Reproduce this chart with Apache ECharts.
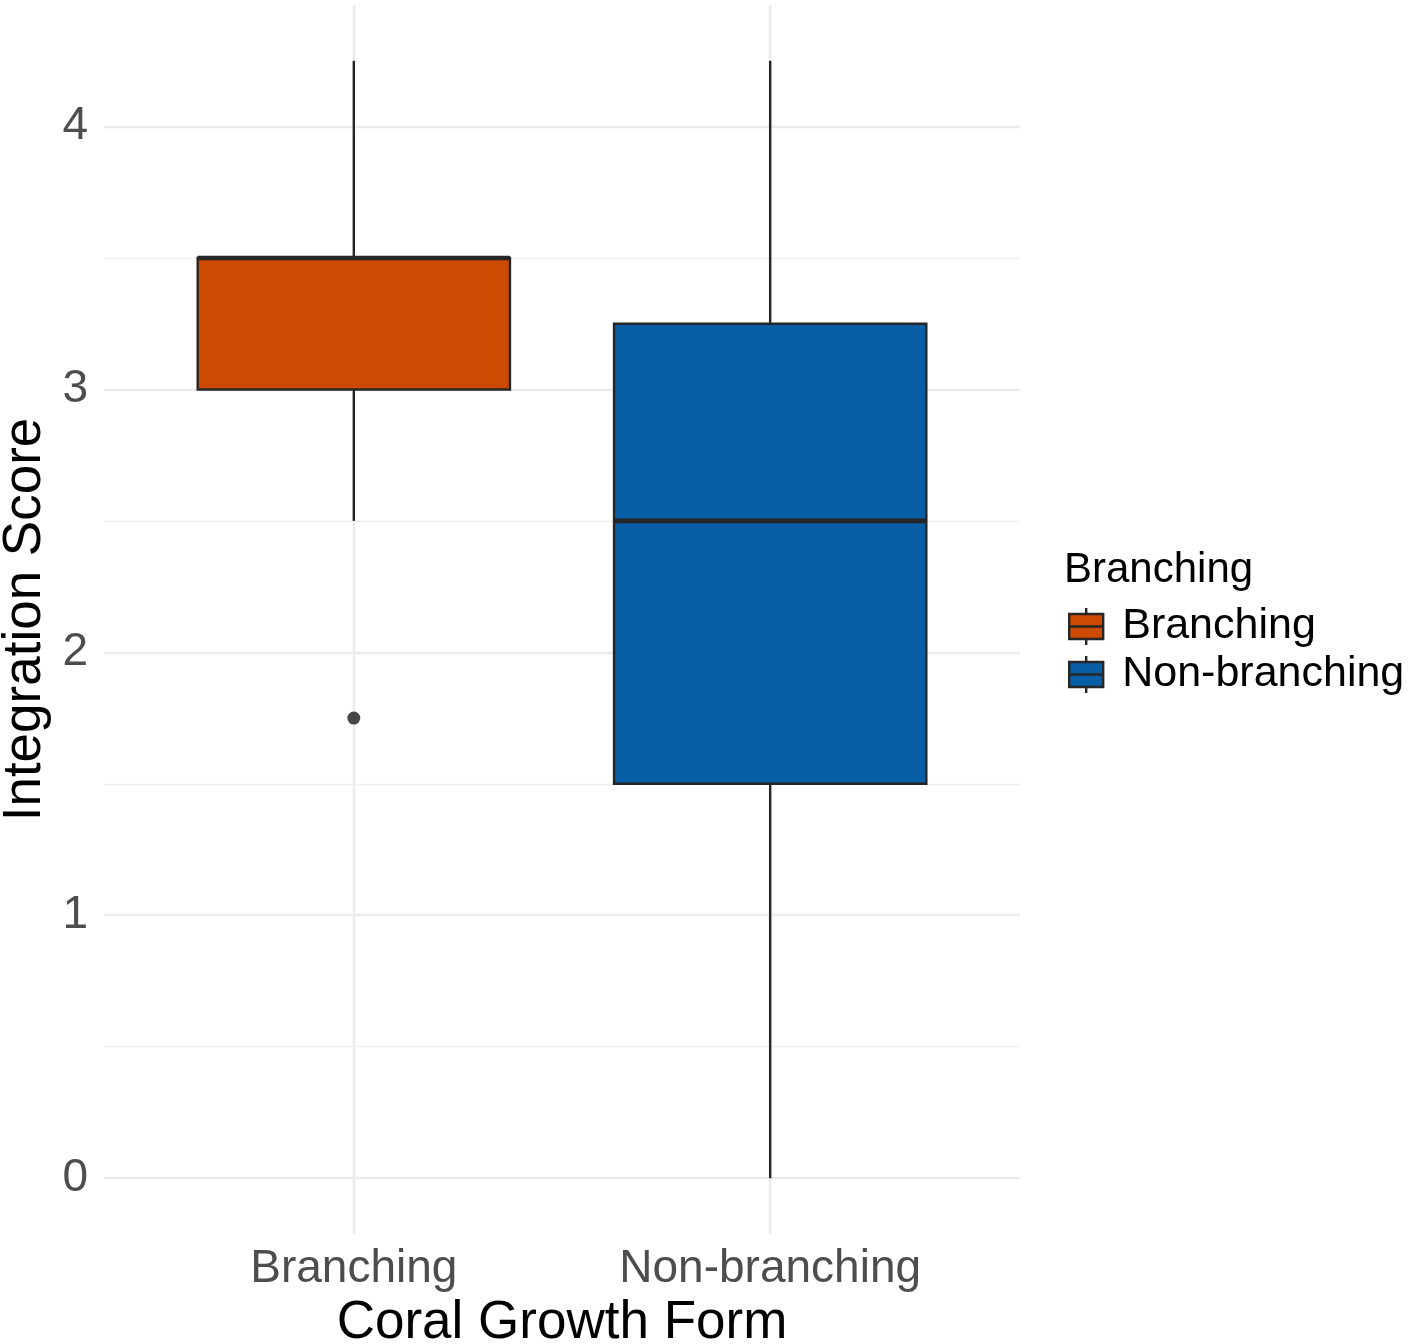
<!DOCTYPE html>
<html>
<head>
<meta charset="utf-8">
<script src="https://cdn.jsdelivr.net/npm/echarts@6/dist/echarts.min.js"></script>
<style>
  html, body { margin: 0; padding: 0; background: #ffffff; }
  #chart { width: 1408px; height: 1344px; }
</style>
</head>
<body>
<div id="chart"></div>
<script>
// ---- Data ----
const categories = ['Branching', 'Non-branching'];
const lowerWhisker = [2.5, 0];
const q1Values = [3, 1.5];
const medianValues = [3.5, 2.5];
const q3Values = [3.5, 3.25];
const upperWhisker = [4.25, 4.25];
const outlierPoints = [[1, 1.75]]; // [category position, value]
const yTickValues = [0, 1, 2, 3, 4];
const yMinorValues = [0.5, 1.5, 2.5, 3.5];
const fillColors = ['#CC4A02', '#085EA5'];

const FONT = "'Liberation Sans', Arial, sans-serif";
const OUTLINE = '#262626';

function renderBox(params, api) {
  const x = api.value(0);
  const low = api.coord([x, api.value(1)]);
  const q1 = api.coord([x, api.value(2)]);
  const med = api.coord([x, api.value(3)]);
  const q3 = api.coord([x, api.value(4)]);
  const high = api.coord([x, api.value(5)]);
  const halfW = api.size([0.75, 0])[0] / 2;
  const cx = q1[0];
  const color = api.visual('color');
  return {
    type: 'group',
    children: [
      { type: 'line', shape: { x1: cx, y1: high[1], x2: cx, y2: q3[1] }, style: { stroke: OUTLINE, lineWidth: 2.4 } },
      { type: 'line', shape: { x1: cx, y1: q1[1], x2: cx, y2: low[1] }, style: { stroke: OUTLINE, lineWidth: 2.4 } },
      { type: 'rect', shape: { x: cx - halfW, y: q3[1], width: halfW * 2, height: q1[1] - q3[1] },
        style: { fill: color, stroke: OUTLINE, lineWidth: 2.4 } },
      { type: 'line', shape: { x1: cx - halfW, y1: med[1], x2: cx + halfW, y2: med[1] }, style: { stroke: OUTLINE, lineWidth: 4.6 } }
    ]
  };
}

const legendIcon = 'path://M0,6 H34 V31 H0 Z M0,18.5 H34 M17,0 V6 M17,31 V37';

const boxSeries = categories.map((name, i) => ({
  name: name,
  type: 'custom',
  renderItem: renderBox,
  itemStyle: { color: fillColors[i] },
  encode: { x: 0, y: [1, 2, 3, 4, 5] },
  data: [[i + 1, lowerWhisker[i], q1Values[i], medianValues[i], q3Values[i], upperWhisker[i]]],
  z: 3,
  markLine: i === 0 ? {
    silent: true,
    symbol: 'none',
    label: { show: false },
    lineStyle: { color: '#EFEFEF', width: 1.4, type: 'solid' },
    data: yMinorValues.map(v => ({ yAxis: v })),
    animation: false,
    z: 1
  } : undefined
}));

const chart = echarts.init(document.getElementById('chart'), null, { renderer: 'canvas' });
chart.setOption({
  animation: false,
  backgroundColor: '#ffffff',
  textStyle: { fontFamily: FONT },
  title: {
    text: 'Branching',
    left: 1064,
    top: 549,
    padding: 0,
    textStyle: { fontFamily: FONT, fontSize: 42, fontWeight: 'normal', color: '#000000' }
  },
  legend: {
    data: categories,
    orient: 'vertical',
    left: 1068,
    top: 605,
    padding: 0,
    itemWidth: 34,
    itemHeight: 37,
    itemGap: 5,
    icon: legendIcon,
    itemStyle: { borderColor: OUTLINE, borderWidth: 2.4 },
    textStyle: { fontFamily: FONT, fontSize: 43, color: '#000000', padding: [0, 0, 0, 14] },
    selectedMode: false
  },
  grid: { left: 104, right: 388, top: 5, bottom: 110, containLabel: false, outerBoundsMode: 'none' },
  xAxis: {
    type: 'value',
    min: 0.4,
    max: 2.6,
    name: 'Coral Growth Form',
    nameLocation: 'middle',
    nameGap: 47,
    nameTextStyle: { fontFamily: FONT, fontSize: 53, color: '#000000', verticalAlign: 'top' },
    axisLine: { show: false },
    axisTick: { show: false, customValues: [1, 2] },
    axisLabel: {
      customValues: [1, 2],
      formatter: v => categories[Math.round(v) - 1] || '',
      fontFamily: FONT, fontSize: 46, color: '#4D4D4D', margin: 12
    },
    splitLine: { show: true, lineStyle: { color: '#EBEBEB', width: 2.4 } }
  },
  yAxis: {
    type: 'value',
    min: -0.2125,
    max: 4.4625,
    name: 'Integration Score',
    nameLocation: 'middle',
    nameGap: 43,
    nameTextStyle: { fontFamily: FONT, fontSize: 53, color: '#000000' },
    axisLine: { show: false },
    axisTick: { show: false, customValues: yTickValues },
    axisLabel: {
      customValues: yTickValues,
      fontFamily: FONT, fontSize: 46, color: '#4D4D4D', margin: 16
    },
    splitLine: { show: true, lineStyle: { color: '#EBEBEB', width: 2.4 } }
  },
  series: boxSeries.concat([{
    name: 'outlier',
    type: 'scatter',
    data: outlierPoints,
    symbol: 'circle',
    symbolSize: 13,
    itemStyle: { color: '#1A1A1A' },
    z: 4,
    silent: true
  }])
});
</script>
</body>
</html>
